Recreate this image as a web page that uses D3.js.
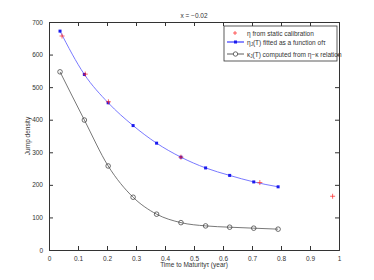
<!DOCTYPE html>
<html>
<head>
<meta charset="utf-8">
<script src="https://cdn.jsdelivr.net/npm/d3@7"></script>
<style>
body { margin: 0; background: #fff; }
svg text { font-family: "Liberation Sans", Arial, sans-serif; fill: #333; }
</style>
</head>
<body>
<svg id="chart" width="374" height="280"></svg>
<script>
// data
var fitT = [0.038, 0.122, 0.204, 0.29, 0.371, 0.455, 0.54, 0.623, 0.706, 0.79];
var fitEta = [672, 539, 452, 382, 328, 285, 252, 229, 209, 194];
var kappa = [547, 399, 258, 162, 110, 84, 74, 70, 67, 64];
var staticT = [0.045, 0.125, 0.205, 0.455, 0.727, 0.978];
var staticEta = [657, 540, 455, 285, 207, 165];
var xTicks = [0, 0.1, 0.2, 0.3, 0.4, 0.5, 0.6, 0.7, 0.8, 0.9, 1];
var yTicks = [0, 100, 200, 300, 400, 500, 600, 700];

var svg = d3.select('#chart');
// note: "top" is taken by window.top, so use plot* names
var plotLeft = 49, plotRight = 339, plotTop = 22, plotBottom = 250;

var x = d3.scaleLinear().domain([0, 1]).range([plotLeft, plotRight]);
var y = d3.scaleLinear().domain([0, 700]).range([plotBottom, plotTop]);

// axes, matlab style: ticks inward, box all round
var ax = svg.append('g').attr('transform', 'translate(0,' + plotBottom + ')')
	.call(d3.axisBottom(x).tickValues(xTicks).tickSize(-4).tickPadding(6).tickFormat(d3.format('')));
var ay = svg.append('g').attr('transform', 'translate(' + plotLeft + ',0)')
	.call(d3.axisLeft(y).tickValues(yTicks).tickSize(-4).tickPadding(6));
var axt = svg.append('g').attr('transform', 'translate(0,' + plotTop + ')')
	.call(d3.axisTop(x).tickValues(xTicks).tickSize(-4).tickFormat(''));
var ayr = svg.append('g').attr('transform', 'translate(' + plotRight + ',0)')
	.call(d3.axisRight(y).tickValues(yTicks).tickSize(-4).tickFormat(''));

[ax, ay, axt, ayr].forEach(function(a) {
	a.selectAll('.domain').attr('stroke', '#333').attr('stroke-width', 1);
	a.selectAll('.tick line').attr('stroke', '#333');
	a.selectAll('text').style('font-size', '6.5px').attr('fill', '#333');
});

var line = d3.line()
	.x(function(d) { return x(d[0]); })
	.y(function(d) { return y(d[1]); })
	.curve(d3.curveMonotoneX);

var fitData = fitT.map(function(t, i) { return [t, fitEta[i]]; });
var kapData = fitT.map(function(t, i) { return [t, kappa[i]]; });
var staticData = staticT.map(function(t, i) { return [t, staticEta[i]]; });

// kappa curve
svg.append('path').attr('d', line(kapData))
	.attr('fill', 'none').attr('stroke', '#555').attr('stroke-width', 0.8);
svg.selectAll('.kap').data(kapData).enter().append('circle')
	.attr('class', 'kap')
	.attr('cx', function(d) { return x(d[0]); })
	.attr('cy', function(d) { return y(d[1]); })
	.attr('r', 2.3)
	.attr('fill', 'none').attr('stroke', '#333').attr('stroke-width', 0.7);

// fitted eta curve
svg.append('path').attr('d', line(fitData))
	.attr('fill', 'none').attr('stroke', '#6a6aff').attr('stroke-width', 0.9);
svg.selectAll('.fit').data(fitData).enter().append('rect')
	.attr('class', 'fit')
	.attr('x', function(d) { return x(d[0]) - 1.5; })
	.attr('y', function(d) { return y(d[1]) - 1.5; })
	.attr('width', 3).attr('height', 3)
	.attr('fill', '#1a1aee');

// static calibration pluses
var plus = svg.selectAll('.st').data(staticData).enter().append('g')
	.attr('class', 'st')
	.attr('transform', function(d) { return 'translate(' + x(d[0]) + ',' + y(d[1]) + ')'; });
plus.append('path').attr('d', 'M-2.5,0H2.5M0,-2.5V2.5')
	.attr('stroke', '#ff2020').attr('stroke-width', 0.7);

// title and labels
svg.append('text').attr('x', (plotLeft + plotRight) / 2).attr('y', 18)
	.attr('text-anchor', 'middle').style('font-size', '6.5px').text('x = \u22120.02');
svg.append('text').attr('x', (plotLeft + plotRight) / 2).attr('y', 267)
	.attr('text-anchor', 'middle').style('font-size', '6.5px').text('Time to Maturity\u03c4 (year)');
svg.append('text').attr('transform', 'translate(30,' + ((plotTop + plotBottom) / 2) + ') rotate(-90)')
	.attr('text-anchor', 'middle').style('font-size', '6.5px').text('Jump density');

// legend
var lg = svg.append('g').attr('transform', 'translate(224,26)');
lg.append('rect').attr('width', 113).attr('height', 35)
	.attr('fill', '#fff').attr('stroke', '#333').attr('stroke-width', 0.8);
lg.append('path').attr('d', 'M-2,7H2M0,5V9').attr('transform', 'translate(11,0)')
	.attr('stroke', '#ff2020').attr('stroke-width', 0.7);
lg.append('line').attr('x1', 3).attr('x2', 20).attr('y1', 16).attr('y2', 16)
	.attr('stroke', '#8a8aff').attr('stroke-width', 2);
lg.append('rect').attr('x', 10).attr('y', 14.5).attr('width', 3).attr('height', 3).attr('fill', '#1a1aee');
lg.append('line').attr('x1', 3).attr('x2', 20).attr('y1', 28).attr('y2', 28)
	.attr('stroke', '#333').attr('stroke-width', 0.8);
lg.append('circle').attr('cx', 11.5).attr('cy', 28).attr('r', 2.2)
	.attr('fill', '#fff').attr('stroke', '#333').attr('stroke-width', 0.7);

var t1 = lg.append('text').attr('x', 23).attr('y', 9.5).style('font-size', '6.5px');
t1.text('\u03b7 from static calibration');
var t2 = lg.append('text').attr('x', 23).attr('y', 18.5).style('font-size', '6.5px');
t2.append('tspan').text('\u03b7');
t2.append('tspan').attr('dy', 1.5).style('font-size', '4.5px').text('J');
t2.append('tspan').attr('dy', -1.5).text('(T) fitted as a function of\u03c4');
var t3 = lg.append('text').attr('x', 23).attr('y', 30.5).style('font-size', '6.5px');
t3.append('tspan').text('\u03ba');
t3.append('tspan').attr('dy', 1.5).style('font-size', '4.5px').text('J');
t3.append('tspan').attr('dy', -1.5).text('(T) computed from \u03b7\u2212\u03ba relation');
</script>
</body>
</html>
